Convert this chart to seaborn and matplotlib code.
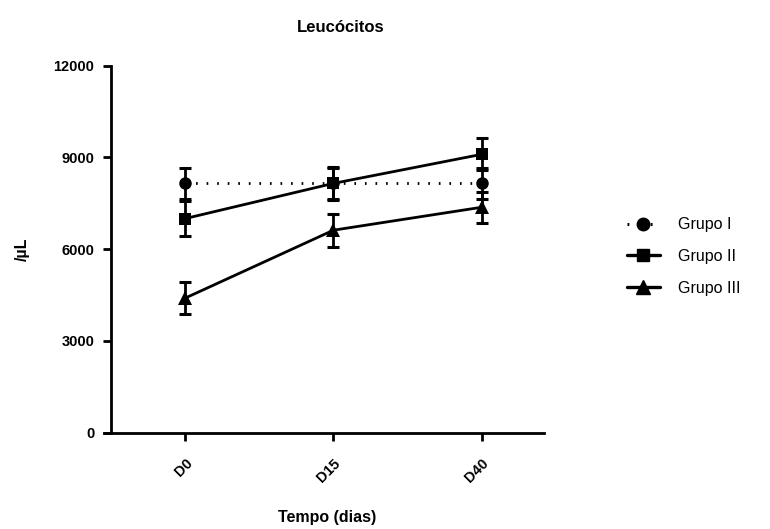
import matplotlib
matplotlib.use("Agg")
import matplotlib.pyplot as plt
import seaborn as sns
import pandas as pd
import numpy as np

# Leukocyte counts (/µL), mean ± SEM per group and time point
tempos = ["D0", "D15", "D40"]
grupos = ["Grupo I", "Grupo II", "Grupo III"]
grupo1 = [8150, 8150, 8150]
grupo2 = [7000, 8150, 9100]
grupo3 = [4400, 6620, 7370]
erro1 = [500, 500, 500]
erro2 = [560, 540, 520]
erro3 = [520, 540, 500]

sns.set_theme(style="ticks")
plt.rcParams["font.family"] = ["Liberation Sans", "DejaVu Sans"]
plt.rcParams["text.color"] = "black"
plt.rcParams["axes.labelcolor"] = "black"
plt.rcParams["xtick.color"] = "black"
plt.rcParams["ytick.color"] = "black"
plt.rcParams["axes.edgecolor"] = "black"

medias = [grupo1, grupo2, grupo3]
erros = [erro1, erro2, erro3]
df = pd.DataFrame({
    "tempo": np.tile(np.arange(len(tempos)), len(grupos)),
    "valor": np.concatenate(medias),
    "grupo": np.repeat(grupos, len(tempos)),
})

fig = plt.figure(figsize=(7.7, 5.29), dpi=100)
ax = fig.add_axes([0.1442, 0.182, 0.5623, 0.694])

marcadores = {"Grupo I": "o", "Grupo II": "s", "Grupo III": "^"}
tracos = {"Grupo I": (0.6, 3.2), "Grupo II": "", "Grupo III": ""}
tamanhos = {"Grupo I": 9, "Grupo II": 8.5, "Grupo III": 9.5}

for g, m, e in zip(grupos, medias, erros):
    ax.errorbar(np.arange(len(tempos)), m, yerr=e, fmt="none", ecolor="black",
                elinewidth=2, capsize=4.5, capthick=2.2, zorder=3)

sns.lineplot(data=df, x="tempo", y="valor", hue="grupo", style="grupo",
             markers=marcadores, dashes=tracos, palette=["black"] * 3,
             linewidth=2, markersize=9, markeredgewidth=0, ax=ax, zorder=4,
             legend=False)

handles = []
for line, g in zip(ax.lines[-3:], grupos):
    line.set_markersize(tamanhos[g])
    line.set_markerfacecolor("black")
    if g == "Grupo I":
        h, = ax.plot([], [], color="black", marker=marcadores[g],
                     markersize=tamanhos[g], linewidth=2.2, linestyle=(0, (0.6, 3.2)))
    else:
        h, = ax.plot([], [], color="black", marker=marcadores[g],
                     markersize=tamanhos[g], linewidth=2.4, linestyle="-")
    handles.append(h)

ax.set_xlim(-0.5, 2.42)
ax.set_ylim(0, 12000)
ax.set_yticks([0, 3000, 6000, 9000, 12000])
ax.set_xticks(range(len(tempos)))
ax.set_xticklabels(tempos, rotation=45, ha="right", va="top", rotation_mode="anchor")

for sp in ["top", "right"]:
    ax.spines[sp].set_visible(False)
for sp in ["left", "bottom"]:
    ax.spines[sp].set_linewidth(2)
ax.spines["bottom"].set_bounds(-0.55, 2.42)
ax.tick_params(axis="both", width=2, length=6, color="black", labelsize=10.5,
               labelcolor="black")
for lab in ax.get_xticklabels() + ax.get_yticklabels():
    lab.set_fontweight("bold")
ax.tick_params(axis="x", pad=11)
ax.tick_params(axis="y", pad=6)

ax.set_xlabel("Tempo (dias)", fontsize=11.5, fontweight="bold", labelpad=18)
ax.set_ylabel("/µL", fontsize=11.5, fontweight="bold", labelpad=17)
ax.set_title("Leucócitos", fontsize=12, fontweight="bold", pad=24, x=0.53)

fig.legend(handles, grupos, loc="center left", bbox_to_anchor=(0.795, 0.515),
           frameon=False, fontsize=11.5, handlelength=2.1, labelspacing=1.05,
           handletextpad=1.1)

fig.savefig("out.png", dpi=100)
